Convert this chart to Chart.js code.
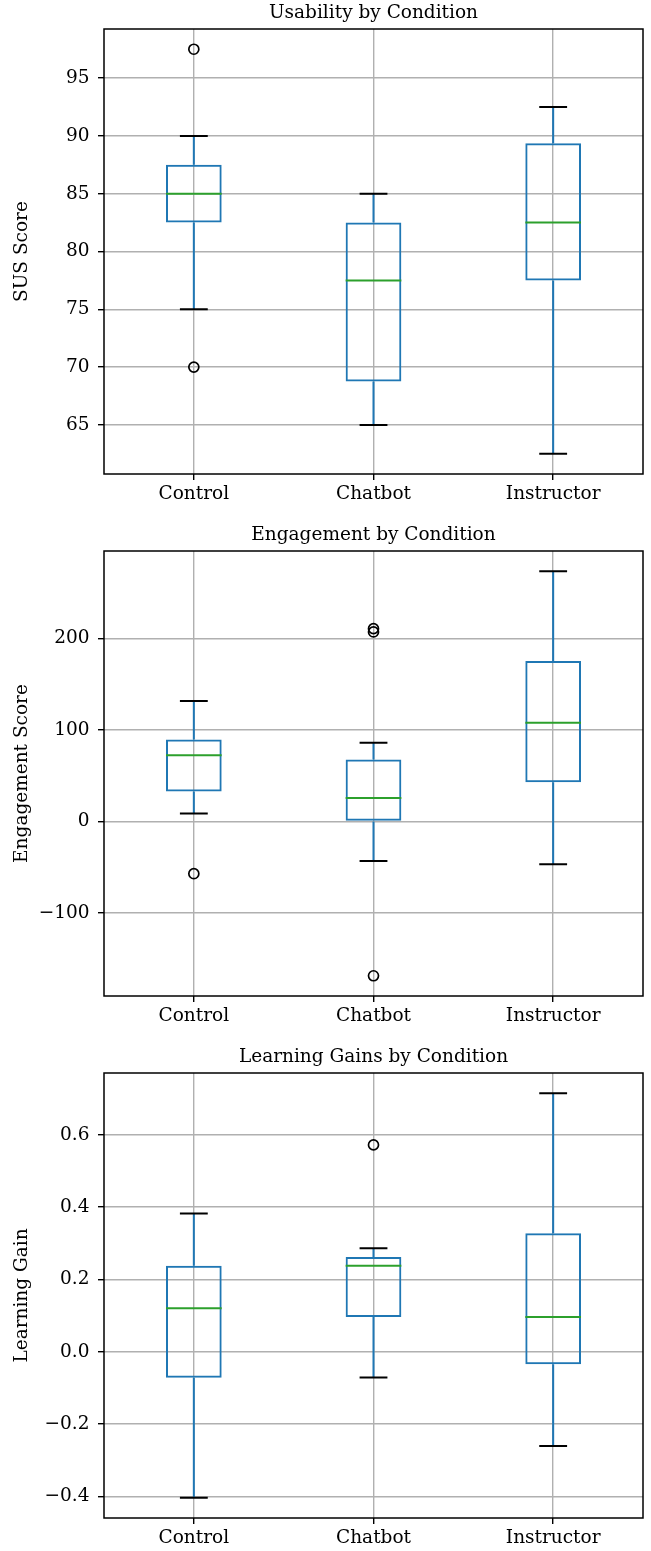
<!DOCTYPE html>
<html>
<head>
<meta charset="utf-8">
<script src="https://cdn.jsdelivr.net/npm/chart.js@4"></script>
<style>
    html, body { margin: 0; padding: 0; background: #fff; }
    #wrap { position: relative; width: 651px; height: 1551px; }
    canvas { position: absolute; left: 0; }
</style>
</head>
<body>
<div id="wrap">
    <canvas id="usabilityChart" width="651" height="522" style="top:0"></canvas>
    <canvas id="engagementChart" width="651" height="522" style="top:522px"></canvas>
    <canvas id="learningChart" width="651" height="507" style="top:1044px"></canvas>
</div>
<script>
const conditions = ['Control', 'Chatbot', 'Instructor'];

/* Usability (SUS) */
const susLow = [75, 65, 62.5];
const susQ1 = [82.5, 68.75, 77.5];
const susMedian = [85, 77.5, 82.5];
const susQ3 = [87.5, 82.5, 89.375];
const susHigh = [90, 85, 92.5];
const susOutliers = [[97.5, 70], [], []];
const susTicks = [65, 70, 75, 80, 85, 90, 95];

/* Engagement */
const engLow = [8.8, -43.2, -46.8];
const engQ1 = [32.9, 0, 43];
const engMedian = [72.6, 25.9, 108];
const engQ3 = [89.8, 67.9, 175.6];
const engHigh = [131.8, 86.1, 273.7];
const engOutliers = [[-57], [210.9, 207.3, -168.6], []];
const engTicks = [-100, 0, 100, 200];

/* Learning gains */
const gainLow = [-0.404, -0.071, -0.261];
const gainQ1 = [-0.072, 0.096, -0.035];
const gainMedian = [0.120, 0.238, 0.096];
const gainQ3 = [0.238, 0.262, 0.328];
const gainHigh = [0.382, 0.286, 0.715];
const gainOutliers = [[], [0.572], []];
const gainTicks = [-0.4, -0.2, 0, 0.2, 0.4, 0.6];

const FONT = 'DejaVu Serif';
const BLUE = '#1f77b4';
const GREEN = '#2ca02c';

document.addEventListener('DOMContentLoaded', () => {
    showBoxChart('usabilityChart', 'Usability by Condition', 'SUS Score',
        susLow, susQ1, susMedian, susQ3, susHigh, susOutliers, susTicks, 0, 15);
    showBoxChart('engagementChart', 'Engagement by Condition', 'Engagement Score',
        engLow, engQ1, engMedian, engQ3, engHigh, engOutliers, engTicks, 0, 15);
    showBoxChart('learningChart', 'Learning Gains by Condition', 'Learning Gain',
        gainLow, gainQ1, gainMedian, gainQ3, gainHigh, gainOutliers, gainTicks, 1, 0);
});

// matplotlib-style autoscale: 5% margin around all drawn values
function paddedRange(low, high, outliers) {
    const vals = low.concat(high, outliers.flat());
    const lo = Math.min(...vals);
    const hi = Math.max(...vals);
    const m = (hi - lo) * 0.05;
    return [lo - m, hi + m];
}

function formatTick(v, decimals) {
    return v.toFixed(decimals).replace('-', '\u2212');
}

function boxPlotPlugin(low, q1, median, q3, high) {
    return {
        id: 'boxWhiskers',
        afterDatasetsDraw(chart) {
            const { ctx, scales: { x, y } } = chart;
            const boxes = chart.getDatasetMeta(0).data;
            ctx.save();
            conditions.forEach((c, i) => {
                const cx = x.getPixelForValue(i);
                const half = boxes[i].width / 2;

                ctx.lineWidth = 2;
                ctx.strokeStyle = BLUE;
                ctx.beginPath();
                ctx.moveTo(cx, y.getPixelForValue(q1[i]));
                ctx.lineTo(cx, y.getPixelForValue(low[i]));
                ctx.moveTo(cx, y.getPixelForValue(q3[i]));
                ctx.lineTo(cx, y.getPixelForValue(high[i]));
                ctx.stroke();

                ctx.strokeStyle = '#000';
                ctx.beginPath();
                [low[i], high[i]].forEach(v => {
                    const py = y.getPixelForValue(v);
                    ctx.moveTo(cx - half / 2, py);
                    ctx.lineTo(cx + half / 2, py);
                });
                ctx.stroke();

                ctx.strokeStyle = GREEN;
                ctx.beginPath();
                const my = y.getPixelForValue(median[i]);
                ctx.moveTo(cx - half, my);
                ctx.lineTo(cx + half, my);
                ctx.stroke();
            });
            ctx.restore();
        },
        afterDraw(chart) {
            const { ctx, chartArea: a } = chart;
            ctx.save();
            ctx.strokeStyle = '#000';
            ctx.lineWidth = 1.5;
            ctx.strokeRect(a.left, a.top, a.right - a.left, a.bottom - a.top);
            ctx.restore();
        }
    };
}

function showBoxChart(canvasId, title, yLabel, low, q1, median, q3, high, outliers, ticks, decimals, bottomPad) {
    const ctx = document.getElementById(canvasId).getContext('2d');
    const [yMin, yMax] = paddedRange(low, high, outliers);
    const outlierPoints = [];
    outliers.forEach((list, i) => list.forEach(v => outlierPoints.push({ x: conditions[i], y: v })));

    const tickFont = { family: FONT, size: 18.5, weight: 'normal' };

    new Chart(ctx, {
        type: 'bar',
        data: {
            labels: conditions,
            datasets: [
                {
                    type: 'bar',
                    label: 'IQR',
                    data: conditions.map((c, i) => [q1[i], q3[i]]),
                    backgroundColor: 'rgba(0, 0, 0, 0)',
                    borderColor: BLUE,
                    borderWidth: 2,
                    borderSkipped: false,
                    categoryPercentage: 1,
                    barPercentage: 0.31,
                },
                {
                    type: 'scatter',
                    label: 'Outliers',
                    data: outlierPoints,
                    pointStyle: 'circle',
                    pointRadius: 5,
                    borderColor: '#000',
                    backgroundColor: 'rgba(0, 0, 0, 0)',
                    borderWidth: 1.7,
                    showLine: false,
                },
            ],
        },
        options: {
            responsive: false,
            animation: false,
            layout: { padding: { left: 0, right: 8, top: 0, bottom: bottomPad } },
            plugins: {
                legend: { display: false },
                tooltip: { enabled: false },
                title: {
                    display: true,
                    fullSize: false,
                    text: title,
                    color: '#000',
                    font: { family: FONT, size: 18.5, weight: 'normal' },
                    padding: { top: 1.9, bottom: 4.9 },
                },
            },
            scales: {
                x: {
                    offset: true,
                    grid: { offset: false, color: '#b0b0b0', lineWidth: 1.4, tickColor: '#000', tickLength: 6, tickWidth: 1.4 },
                    border: { display: false },
                    ticks: { color: '#000', font: tickFont, padding: 3.5, maxRotation: 0, autoSkip: false },
                    afterFit: s => { s.height = 33; },
                },
                y: {
                    min: yMin,
                    max: yMax,
                    grid: { color: '#b0b0b0', lineWidth: 1.4, tickColor: '#000', tickLength: 6, tickWidth: 1.4 },
                    border: { display: false },
                    ticks: { color: '#000', font: tickFont, padding: 8.5, callback: v => formatTick(v, decimals) },
                    afterBuildTicks: s => { s.ticks = ticks.map(v => ({ value: v })); },
                    title: { display: true, text: yLabel, color: '#000', font: tickFont, padding: { top: 11.4, bottom: 0 } },
                    afterFit: s => { s.width = 104; },
                },
            },
        },
        plugins: [boxPlotPlugin(low, q1, median, q3, high)],
    });
}
</script>
</body>
</html>
